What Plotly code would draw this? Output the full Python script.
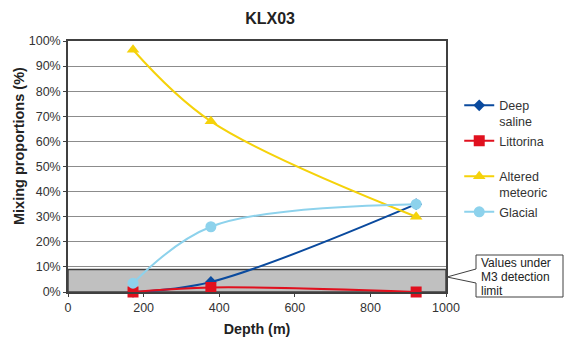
import plotly.graph_objects as go

# Sample depths (m) and end-member mixing proportions (%)
depth = [172, 378, 921]
deep_saline = [0.0, 4.0, 35.0]
littorina = [0.0, 1.8, 0.0]
altered_meteoric = [96.5, 68.0, 30.0]
glacial = [3.5, 26.0, 35.0]

detection_limit = 9.0  # M3 detection limit (%)
callout_lines = ["Values under", "M3 detection", "limit"]

FONT = "Arial, Liberation Sans, sans-serif"

series = [
    ("Deep<br>saline", deep_saline, "#0A4A9E", "diamond", 9),
    ("Littorina<br> ", littorina, "#E0101E", "square", 11),
    ("Altered<br>meteoric", altered_meteoric, "#F5D20A", "triangle-up", 11),
    ("Glacial", glacial, "#8DD2EC", "circle", 11),
]

fig = go.Figure()
for name, vals, color, symbol, size in series:
    fig.add_trace(go.Scatter(
        x=depth, y=vals, name=name, mode="lines+markers",
        line=dict(color=color, width=2, shape="spline", smoothing=1),
        marker=dict(color=color, symbol=symbol, size=size, line=dict(width=0)),
        cliponaxis=False,
    ))

# Grey band for values under the detection limit
fig.add_shape(type="rect", xref="x", yref="y", x0=0, x1=1000, y0=0, y1=detection_limit,
              fillcolor="#C0C0C0", line=dict(color="#404040", width=1.5), layer="between")

# Plot-area geometry in pixels, used for the paper-anchored callout and titles
L, R, T, B = 68, 446, 41, 292
W, H = 565, 341
def px(xp):
    return (xp - L) / (R - L)
def py(yp):
    return (B - yp) / (B - T)

path = (f"M {px(476)},{py(255)} L {px(563)},{py(255)} L {px(563)},{py(297)} "
        f"L {px(476)},{py(297)} L {px(476)},{py(283)} L {px(447)},{py(277)} "
        f"L {px(476)},{py(269)} Z")
fig.add_shape(type="path", xref="paper", yref="paper", path=path,
              fillcolor="white", line=dict(color="#404040", width=1))
for i, line in enumerate(callout_lines):
    fig.add_annotation(xref="paper", yref="paper", x=px(479), y=py(262.5 + 14 * i),
                       xanchor="left", yanchor="middle", align="left", showarrow=False,
                       text=line, font=dict(family=FONT, size=12, color="#222"))

# Y-axis title
fig.add_annotation(xref="paper", yref="paper", x=px(19), y=py(146),
                   xanchor="center", yanchor="middle", showarrow=False, textangle=-90,
                   text="<b>Mixing proportions (%)</b>",
                   font=dict(family=FONT, size=14.5, color="#222"))

fig.update_layout(
    width=W, height=H,
    margin=dict(l=L, r=W - R, t=T, b=H - B, autoexpand=False),
    paper_bgcolor="white", plot_bgcolor="white",
    title=dict(text="<b>KLX03</b>", x=0.478, xanchor="center", y=0.945, yanchor="middle",
               font=dict(family=FONT, size=16, color="#222")),
    font=dict(family=FONT, size=12.5, color="#333"),
    legend=dict(x=1.035, y=0.802, xanchor="left", yanchor="top", valign="top",
                font=dict(family=FONT, size=12.5, color="#333"),
                bgcolor="rgba(0,0,0,0)", tracegroupgap=0),
    showlegend=True,
)
fig.update_xaxes(
    range=[0, 1000], dtick=200, tick0=0, automargin=False,
    title=dict(text="<b>Depth (m)</b>", font=dict(family=FONT, size=14.3, color="#222"), standoff=10),
    showgrid=False, zeroline=False, showline=True, mirror=True,
    linecolor="#404040", linewidth=1.5, ticks="outside", ticklen=3, tickcolor="#404040",
    tickfont=dict(family=FONT, size=12.5, color="#333"),
)
fig.update_yaxes(
    range=[0, 100], dtick=10, ticksuffix="%", automargin=False,
    showgrid=True, gridcolor="#8C8C8C", gridwidth=1, zeroline=False,
    showline=True, mirror=True, linecolor="#404040", linewidth=1.5,
    ticks="outside", ticklen=3, tickcolor="#404040",
    tickfont=dict(family=FONT, size=12.5, color="#333"),
)

fig.write_html("out.html")
